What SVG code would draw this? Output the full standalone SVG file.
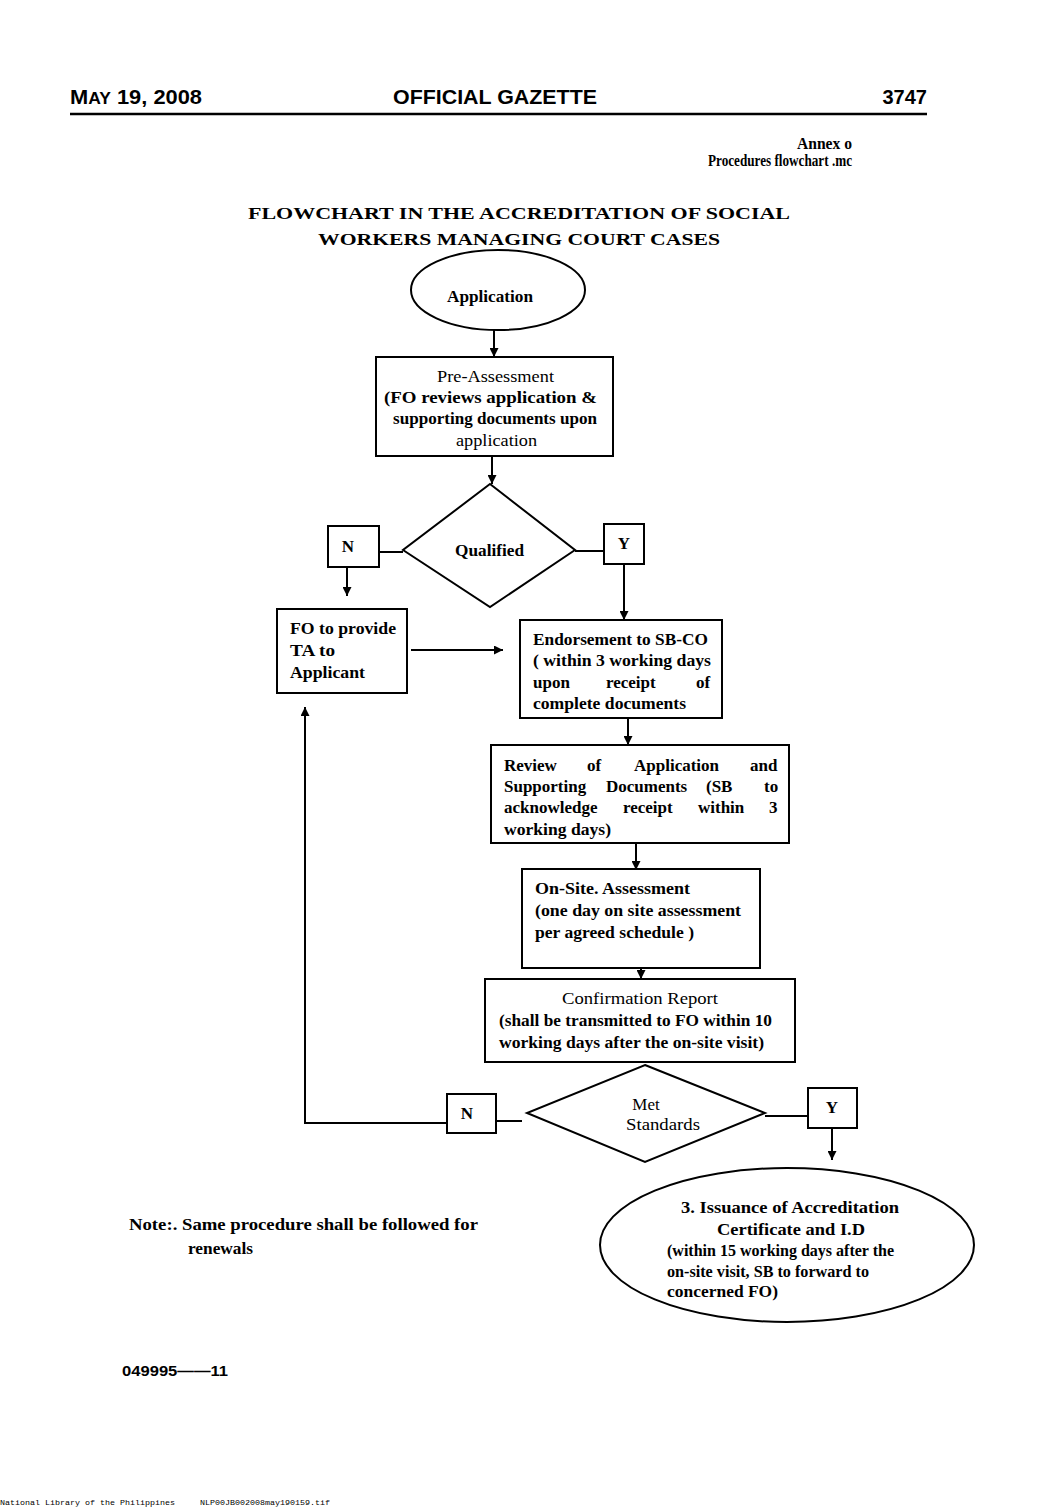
<svg xmlns="http://www.w3.org/2000/svg" width="1059" height="1508" viewBox="0 0 1059 1508">
<style>
.s{fill:none;stroke:#000;stroke-width:2}
.t{font-family:"Liberation Serif",serif;font-size:17px;fill:#000}
.b{font-weight:bold}
.h{font-family:"Liberation Sans",Arial,sans-serif;font-weight:bold;fill:#000}
.m{font-family:"Liberation Mono",monospace;font-size:8px;fill:#000}
</style>
<defs>
<marker id="a" viewBox="0 0 10 10" refX="10" refY="5" markerWidth="9" markerHeight="9" markerUnits="userSpaceOnUse" orient="auto">
<path d="M0,0L10,5L0,10z" fill="#000"/>
</marker>
</defs>
<rect width="1059" height="1508" fill="#fff"/>
<g id="header">
<text class="h" x="70" y="104" font-size="20" textLength="132" lengthAdjust="spacingAndGlyphs">M<tspan font-size="16">AY</tspan> 19, 2008</text>
<text class="h" x="495" y="104" font-size="20" text-anchor="middle" textLength="204" lengthAdjust="spacingAndGlyphs">OFFICIAL GAZETTE</text>
<text class="h" x="927" y="104" font-size="20" text-anchor="end">3747</text>
<line x1="70" y1="114" x2="927" y2="114" stroke="#000" stroke-width="2.5"/>
<text class="t b" x="852" y="149" font-size="11" text-anchor="end" textLength="55" lengthAdjust="spacingAndGlyphs">Annex o</text>
<text class="t b" x="708" y="166" font-size="11" textLength="144" lengthAdjust="spacingAndGlyphs">Procedures flowchart .mc</text>
</g>
<g id="title">
<text class="t b" x="519" y="219" font-size="24" text-anchor="middle" textLength="542" lengthAdjust="spacingAndGlyphs">FLOWCHART IN THE ACCREDITATION OF SOCIAL</text>
<text class="t b" x="519" y="245" font-size="24" text-anchor="middle" textLength="402" lengthAdjust="spacingAndGlyphs">WORKERS MANAGING COURT CASES</text>
</g>
<g id="connectors">
<line class="s" x1="494" y1="330" x2="494" y2="357" marker-end="url(#a)"/>
<line class="s" x1="492" y1="456" x2="492" y2="484" marker-end="url(#a)"/>
<line class="s" x1="379" y1="552" x2="403" y2="552"/>
<line class="s" x1="347" y1="567" x2="347" y2="596" marker-end="url(#a)"/>
<line class="s" x1="575" y1="551" x2="604" y2="551"/>
<line class="s" x1="624" y1="564" x2="624" y2="620" marker-end="url(#a)"/>
<line class="s" x1="411" y1="650" x2="503" y2="650" marker-end="url(#a)"/>
<line class="s" x1="628" y1="718" x2="628" y2="745" marker-end="url(#a)"/>
<line class="s" x1="636" y1="843" x2="636" y2="870" marker-end="url(#a)"/>
<line class="s" x1="641" y1="968" x2="641" y2="979" marker-end="url(#a)"/>
<line class="s" x1="496" y1="1121" x2="522" y2="1121"/>
<polyline class="s" points="447,1123 305,1123 305,707" marker-end="url(#a)"/>
<line class="s" x1="765" y1="1116" x2="808" y2="1116"/>
<line class="s" x1="832" y1="1128" x2="832" y2="1160" marker-end="url(#a)"/>
</g>
<g id="application">
<ellipse class="s" cx="498" cy="290" rx="87" ry="40"/>
<text class="t b" x="490" y="302" text-anchor="middle" textLength="86" lengthAdjust="spacingAndGlyphs">Application</text>
</g>
<g id="preassessment">
<rect class="s" x="376" y="357" width="237" height="99"/>
<text class="t" x="495.5" y="382" text-anchor="middle" textLength="117" lengthAdjust="spacingAndGlyphs">Pre-Assessment</text>
<text class="t b" x="490.5" y="403" text-anchor="middle" textLength="213" lengthAdjust="spacingAndGlyphs">(FO reviews  application &amp;</text>
<text class="t b" x="495" y="424" text-anchor="middle" textLength="204" lengthAdjust="spacingAndGlyphs">supporting documents upon</text>
<text class="t" x="496.5" y="446" text-anchor="middle" textLength="81" lengthAdjust="spacingAndGlyphs">application</text>
</g>
<g id="qualified">
<polygon class="s" points="490,484 575,550 490,607 403,550"/>
<text class="t b" x="489.5" y="556" text-anchor="middle" textLength="69" lengthAdjust="spacingAndGlyphs">Qualified</text>
</g>
<g id="n1">
<rect class="s" x="328" y="526" width="51" height="41"/>
<text class="t b" x="348" y="552" text-anchor="middle">N</text>
</g>
<g id="y1">
<rect class="s" x="604" y="524" width="40" height="40"/>
<text class="t b" x="624" y="549" text-anchor="middle">Y</text>
</g>
<g id="fo">
<rect class="s" x="277" y="609" width="130" height="84"/>
<text class="t b" x="290" y="634" font-size="18" textLength="106" lengthAdjust="spacingAndGlyphs">FO to provide</text>
<text class="t b" x="290" y="656" font-size="18" textLength="45" lengthAdjust="spacingAndGlyphs">TA to</text>
<text class="t b" x="290" y="678" font-size="18" textLength="75" lengthAdjust="spacingAndGlyphs">Applicant</text>
</g>
<g id="endorsement">
<rect class="s" x="520" y="620" width="202" height="98"/>
<text class="t b" x="533" y="645" textLength="175" lengthAdjust="spacingAndGlyphs">Endorsement to SB-CO</text>
<text class="t b" x="533" y="666" textLength="178" lengthAdjust="spacingAndGlyphs">( within 3 working days</text>
<text class="t b" y="688"><tspan x="533">upon</tspan><tspan x="606">receipt</tspan><tspan x="696">of</tspan></text>
<text class="t b" x="533" y="709" textLength="153" lengthAdjust="spacingAndGlyphs">complete documents</text>
</g>
<g id="review">
<rect class="s" x="491" y="745" width="298" height="98"/>
<text class="t b" y="771"><tspan x="504">Review</tspan><tspan x="587">of</tspan><tspan x="634">Application</tspan><tspan x="750">and</tspan></text>
<text class="t b" y="792"><tspan x="504">Supporting</tspan><tspan x="606">Documents</tspan><tspan x="706">(SB</tspan><tspan x="764">to</tspan></text>
<text class="t b" y="813"><tspan x="504">acknowledge</tspan><tspan x="623">receipt</tspan><tspan x="698">within</tspan><tspan x="769">3</tspan></text>
<text class="t b" x="504" y="835" textLength="107" lengthAdjust="spacingAndGlyphs">working days)</text>
</g>
<g id="onsite">
<rect class="s" x="522" y="869" width="238" height="99"/>
<text class="t b" x="535" y="894" textLength="155" lengthAdjust="spacingAndGlyphs">On-Site. Assessment</text>
<text class="t b" x="535" y="916" textLength="206" lengthAdjust="spacingAndGlyphs">(one day on site assessment</text>
<text class="t b" x="535" y="938" textLength="159" lengthAdjust="spacingAndGlyphs">per agreed schedule )</text>
</g>
<g id="confirmation">
<rect class="s" x="485" y="979" width="310" height="83"/>
<text class="t" x="640" y="1004" text-anchor="middle" textLength="156" lengthAdjust="spacingAndGlyphs">Confirmation Report</text>
<text class="t b" x="635.5" y="1026" text-anchor="middle" textLength="273" lengthAdjust="spacingAndGlyphs">(shall be transmitted to FO within 10</text>
<text class="t b" x="631.5" y="1048" text-anchor="middle" textLength="265" lengthAdjust="spacingAndGlyphs">working days after the on-site visit)</text>
</g>
<g id="met">
<polygon class="s" points="645,1065 765,1113 645,1162 527,1113"/>
<text class="t" x="646" y="1110" text-anchor="middle">Met</text>
<text class="t" x="663" y="1130" text-anchor="middle" textLength="74" lengthAdjust="spacingAndGlyphs">Standards</text>
</g>
<g id="n2">
<rect class="s" x="447" y="1094" width="49" height="39"/>
<text class="t b" x="467" y="1119" text-anchor="middle">N</text>
</g>
<g id="y2">
<rect class="s" x="808" y="1088" width="49" height="40"/>
<text class="t b" x="832" y="1113" text-anchor="middle">Y</text>
</g>
<g id="issuance">
<ellipse class="s" cx="787" cy="1245" rx="187" ry="77"/>
<text class="t b" x="790" y="1213" text-anchor="middle" textLength="218" lengthAdjust="spacingAndGlyphs">3. Issuance of Accreditation</text>
<text class="t b" x="791" y="1235" text-anchor="middle" textLength="148" lengthAdjust="spacingAndGlyphs">Certificate and I.D</text>
<text class="t b" x="667" y="1256" font-size="14" textLength="227" lengthAdjust="spacingAndGlyphs">(within 15 working days after the</text>
<text class="t b" x="667" y="1277" font-size="14" textLength="202" lengthAdjust="spacingAndGlyphs">on-site visit, SB to forward to</text>
<text class="t b" x="667" y="1297" font-size="14" textLength="111" lengthAdjust="spacingAndGlyphs">concerned  FO)</text>
</g>
<g id="note">
<text class="t b" x="129" y="1230" textLength="349" lengthAdjust="spacingAndGlyphs">Note:. Same procedure  shall be followed for</text>
<text class="t b" x="188" y="1254" textLength="65" lengthAdjust="spacingAndGlyphs">renewals</text>
</g>
<g id="footer">
<text class="h" x="122" y="1376" font-size="15" textLength="106" lengthAdjust="spacingAndGlyphs">049995——11</text>
<text class="m" x="0" y="1505" textLength="175" lengthAdjust="spacingAndGlyphs">National Library of the Philippines</text>
<text class="m" x="200" y="1505" textLength="130" lengthAdjust="spacingAndGlyphs">NLP00JB002008may190159.tif</text>
</g>
</svg>
